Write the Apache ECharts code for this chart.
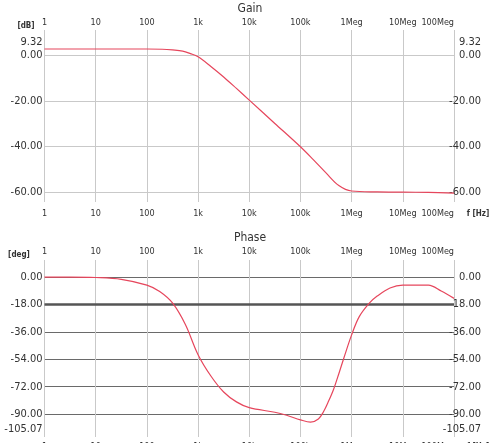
<!DOCTYPE html>
<html><head><meta charset="utf-8">
<script src="https://cdn.jsdelivr.net/npm/echarts@6/dist/echarts.min.js"></script>
<style>html,body{margin:0;padding:0;background:#fff}#c{width:492px;height:443px}</style>
</head><body><div id="c"></div>
<script>
// ---- data ----
const freqTickLabels = ['1','10','100','1k','10k','100k','1Meg','10Meg','100Meg'];
const gainFreq = [1,10,100,200,316,500,708,1000,1780,3160,5620,10000,31600,100000,178000,316000,562000,1000000,3160000,10000000,31600000,100000000];
const gainDb   = [2.6,2.6,2.6,2.5,2.2,1.7,0.6,-0.8,-5.0,-9.6,-14.6,-19.7,-29.9,-40.1,-45.7,-51.5,-57.0,-59.4,-59.8,-59.9,-60.0,-60.3];
const phaseFreq = [1,3.16,10,31.6,100,178,316,562,1000,1780,3160,5620,10000,31600,53700,100000,158000,224000,282000,355000,447000,562000,708000,1000000,1410000,2240000,3160000,5620000,10000000,20000000,31600000,56200000,100000000];
const phaseDeg  = [0,0,-0.3,-1.5,-5.3,-9.5,-17,-31,-51,-65,-75.5,-82,-85.8,-88.8,-90.8,-93.8,-95.3,-93.2,-88.5,-81.5,-73.5,-63.5,-53,-38,-26,-17,-12.5,-7.2,-5.3,-5.3,-5.3,-9.2,-14];
const gainTickValues = [0,-20,-40,-60];
const gainLabelValues = [9.32,0,-20,-40,-60];
const gainMaxLabel = 9.32;
const phaseTickValues = [0,-18,-36,-54,-72,-90];
const phaseLabelValues = [0,-18,-36,-54,-72,-90,-105.07];
const phaseMinLabel = -105.07;
const phaseRefLine = -18;

const FONT = "'Liberation Sans Narrow','Arial Narrow','DejaVu Sans Condensed','Liberation Sans',sans-serif";
const TXT = '#333';
const LIGHT = '#c9c9c9';
const DARK = '#6a6a6a';
const RED = '#e6465c';

function fLabel(v){ const i = Math.round(Math.log10(v)); return freqTickLabels[i] !== undefined ? freqTickLabels[i] : ''; }
function yFmt(v){
  const s = v.toFixed(2);
  if (Math.abs(v - gainMaxLabel) < 1e-6) return '{hi|' + s + '}';
  if (Math.abs(v - phaseMinLabel) < 1e-6) return '{lo|' + s + '}';
  return s;
}
const rich = { hi:{padding:[18,0,0,0], fontFamily:FONT, fontSize:11, color:TXT}, lo:{padding:[0,0,15,0], fontFamily:FONT, fontSize:11, color:TXT} };

function xAx(grid, pos, margin, split){
  return {
    type:'log', logBase:10, gridIndex:grid, position:pos, min:1, max:100000000, splitNumber:8,
    axisLine:{show:false}, axisTick:{show:false},
    axisLabel:{margin:margin, formatter:fLabel, fontFamily:FONT, fontSize:9, color:TXT, alignMaxLabel:'right', showMinLabel:true, showMaxLabel:true, hideOverlap:false, interval:0},
    splitLine:{show:split, lineStyle:{color:LIGHT, width:1}}
  };
}
function yAx(grid, pos, min, max, ticks, labels, split, splitColor){
  return {
    type:'value', gridIndex:grid, position:pos, min:min, max:max,
    axisLine:{show:false},
    axisTick:{show:false, customValues:ticks},
    axisLabel:{customValues:labels, formatter:yFmt, rich:rich, fontFamily:FONT, fontSize:11, color:TXT,
               margin: pos==='left'?2:27, align: 'right'},
    splitLine:{show:split, lineStyle:{color:splitColor, width:1}}
  };
}

const chart = echarts.init(document.getElementById('c'), null, {renderer:'canvas'});
chart.setOption({
  animation:false,
  backgroundColor:'#fff',
  grid:[
    {left:44.5, right:38, top:30, height:172, containLabel:false, outerBoundsMode:'none'},
    {left:44.5, right:38, top:260, height:177, containLabel:false, outerBoundsMode:'none'}
  ],
  xAxis:[ xAx(0,'bottom',7,true), xAx(0,'top',3,false), xAx(1,'bottom',5,true), xAx(1,'top',4,false) ],
  yAxis:[
    yAx(0,'left',-64.2,10.9,gainTickValues,gainLabelValues,true,LIGHT),
    yAx(0,'right',-64.2,10.9,gainTickValues,gainLabelValues,false,LIGHT),
    yAx(1,'left',-105.07,11.2,phaseTickValues,phaseLabelValues,true,DARK),
    yAx(1,'right',-105.07,11.2,phaseTickValues,phaseLabelValues,false,DARK)
  ],
  series:[
    {type:'line', name:'Gain', xAxisIndex:0, yAxisIndex:0, data: gainFreq.map((f,i)=>[f,gainDb[i]]),
     showSymbol:false, smooth:0.35, lineStyle:{color:RED, width:1.2}, z:5},
    {type:'line', name:'Phase', xAxisIndex:2, yAxisIndex:2, data: phaseFreq.map((f,i)=>[f,phaseDeg[i]]),
     showSymbol:false, smooth:0.35, lineStyle:{color:RED, width:1.2}, z:5,
     markLine:{silent:true, symbol:'none', label:{show:false}, lineStyle:{color:'#555', width:2.5, type:'solid'}, data:[{yAxis:phaseRefLine}], z:3}}
  ],
  graphic:[
    {type:'text', x:250, y:9, style:{text:'Gain', fontFamily:FONT, fontSize:12, fill:TXT, align:'center', verticalAlign:'middle'}},
    {type:'text', x:250, y:238, style:{text:'Phase', fontFamily:FONT, fontSize:12, fill:TXT, align:'center', verticalAlign:'middle'}},
    {type:'text', x:26, y:26, style:{text:'[dB]', fontFamily:FONT, fontSize:8, fontWeight:'bold', fill:TXT, align:'center', verticalAlign:'middle'}},
    {type:'text', x:19, y:255, style:{text:'[deg]', fontFamily:FONT, fontSize:8, fontWeight:'bold', fill:TXT, align:'center', verticalAlign:'middle'}},
    {type:'text', x:478, y:214, style:{text:'f [Hz]', fontFamily:FONT, fontSize:8, fontWeight:'bold', fill:TXT, align:'center', verticalAlign:'middle'}},
    {type:'text', x:478, y:447, style:{text:'f [Hz]', fontFamily:FONT, fontSize:8, fontWeight:'bold', fill:TXT, align:'center', verticalAlign:'middle'}}
  ]
});
</script>
</body></html>
